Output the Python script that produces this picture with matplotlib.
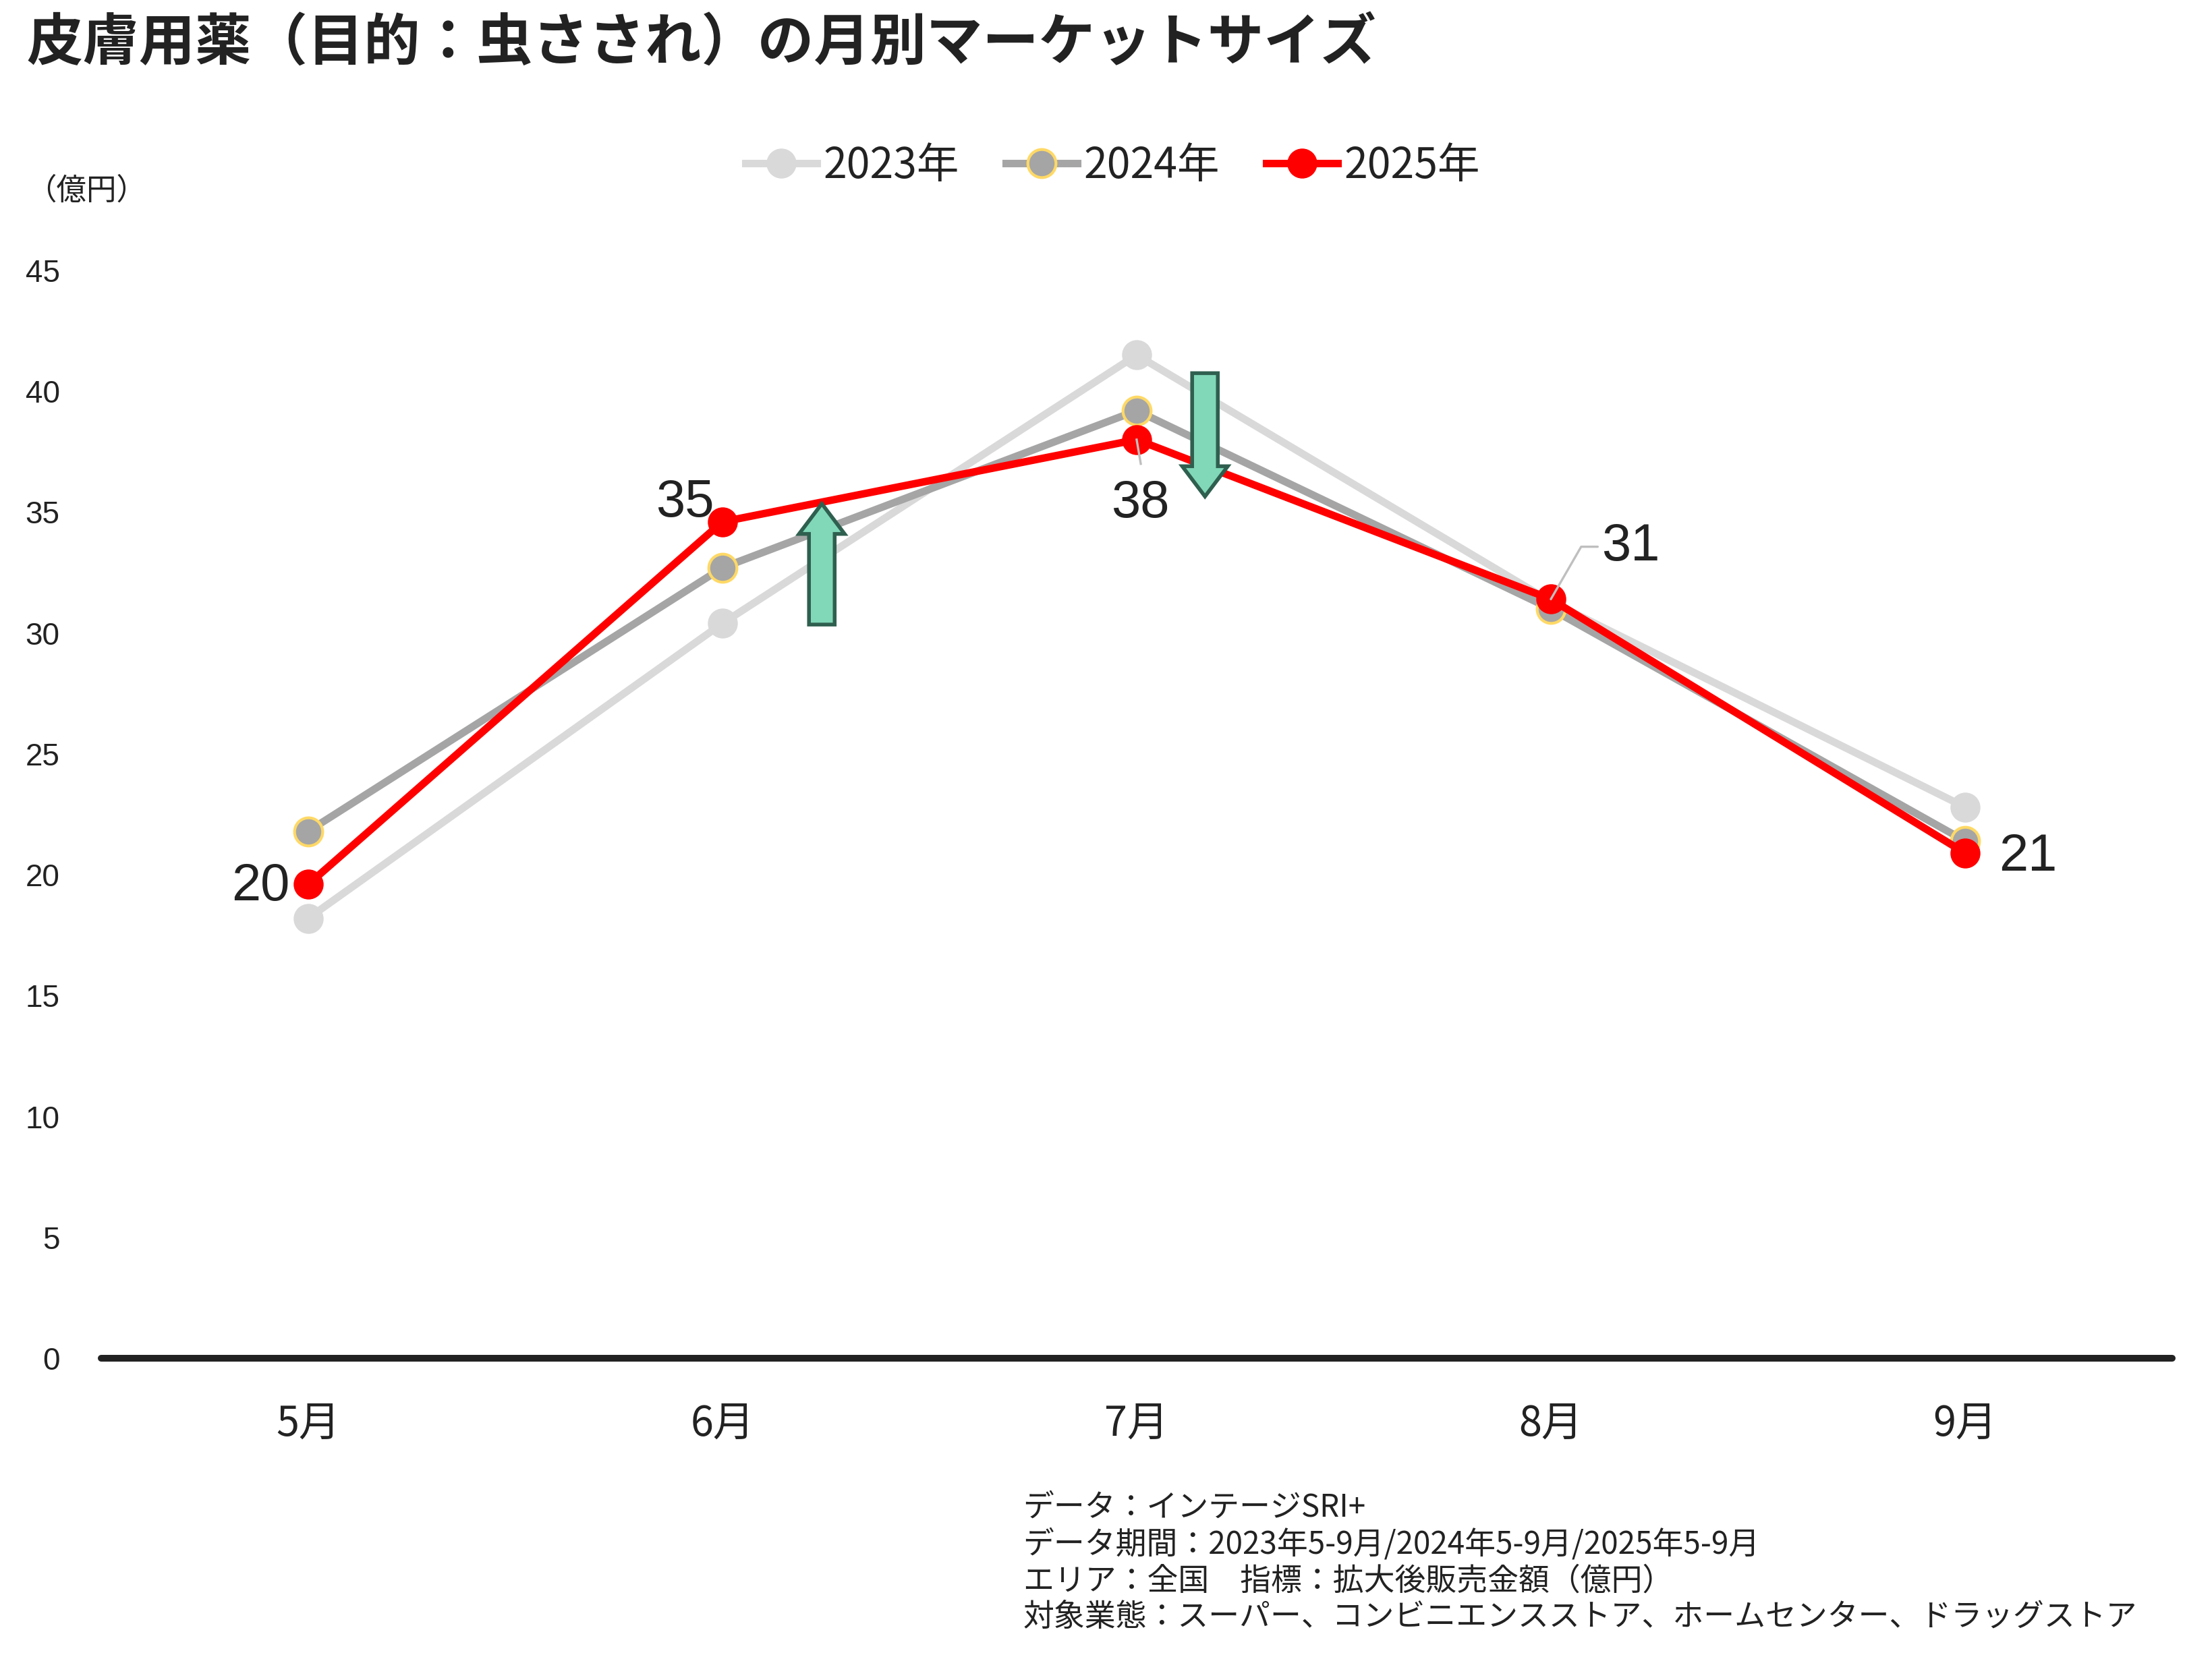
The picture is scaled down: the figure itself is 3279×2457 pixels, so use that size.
import numpy as np
import matplotlib
matplotlib.use('Agg')
import matplotlib.pyplot as plt
from matplotlib.patches import FancyArrow

plt.rcParams['font.family'] = ['Noto Sans CJK JP', 'DejaVu Sans']

months = ['5月', '6月', '7月', '8月', '9月']
sales_2023 = [18.2, 30.4, 41.5, 31.3, 22.8]
sales_2024 = [21.8, 32.7, 39.2, 31.0, 21.4]
sales_2025 = [19.6, 34.6, 38.0, 31.4, 20.9]

# label offsets (points) for the 2025 values
label_offsets = [(-10, -1, 'right'), (-20, 10, 'center'), (2, -34, 'center'),
                 (27, 28, 'left'), (18, -2, 'left')]

footnotes = [
    'データ：インテージSRI+',
    'データ期間：2023年5-9月/2024年5-9月/2025年5-9月',
    'エリア：全国　指標：拡大後販売金額（億円）',
    '対象業態：スーパー、コンビニエンスストア、ホームセンター、ドラッグストア',
]

fig = plt.figure(figsize=(16.395, 12.285), dpi=200)
ax = fig.add_axes([0.0457, 0.1803, 0.9363, 0.6565])

x = np.arange(len(months))
ax.plot(x, sales_2023, color='#D9D9D9', lw=4, marker='o', ms=15,
        mfc='#D9D9D9', mec='#D9D9D9', label='2023年', zorder=2)
ax.plot(x, sales_2024, color='#A5A5A5', lw=4, marker='o', ms=15,
        mfc='#A5A5A5', mec='#FFD966', mew=1.5, label='2024年', zorder=3)
ax.plot(x, sales_2025, color='#FF0000', lw=4, marker='o', ms=15,
        mfc='#FF0000', mec='#FF0000', label='2025年', zorder=4)

for i, v in enumerate(sales_2025):
    dx, dy, ha = label_offsets[i]
    kw = {}
    if i == 3:
        kw['arrowprops'] = dict(arrowstyle='-', color='#BFBFBF', lw=1.2,
                                connectionstyle='angle,angleA=0,angleB=60,rad=0',
                                shrinkA=0, shrinkB=0, relpos=(0, 0.5))
    if i == 2:
        ax.plot([i, i + 0.01], [v, v - 1.0], color='#BFBFBF', lw=1.2, zorder=5)
    ax.annotate(f'{round(v)}', (i, v), xytext=(dx, dy), textcoords='offset points',
                ha=ha, va='center', fontsize=28, color='#222222',
                family='Liberation Sans', zorder=6, **kw)

# trend arrows
arrow_kw = dict(width=0.062, head_width=0.11, head_length=1.25,
                length_includes_head=True, fc='#80D8B8', ec='#2F5F4F', lw=2, zorder=7)
ax.add_patch(FancyArrow(1.24, 30.35, 0, 5.0, **arrow_kw))
ax.add_patch(FancyArrow(2.165, 40.75, 0, -5.1, **arrow_kw))

ax.set_xlim(-0.5, 4.5)
ax.set_ylim(0, 45)
ax.set_yticks(np.arange(0, 46, 5))
ax.set_xticks(x)
ax.set_xticklabels(months, fontsize=22, color='#222222')
ax.tick_params(axis='x', length=0, pad=24)
ax.tick_params(axis='y', length=0, pad=22)
for lab in ax.get_yticklabels():
    lab.set_family('Liberation Sans')
    lab.set_fontsize(16.5)
    lab.set_color('#222222')

for s in ['top', 'right', 'left']:
    ax.spines[s].set_visible(False)
ax.spines['bottom'].set_linewidth(3.6)
ax.spines['bottom'].set_color('#222222')
ax.spines['bottom'].set_capstyle('round')

fig.text(0.012, 0.974, '皮膚用薬（目的：虫さされ）の月別マーケットサイズ', fontsize=30,
         fontweight='bold', color='#222222', ha='left', va='center')
fig.text(0.012, 0.885, '（億円）', fontsize=16, color='#222222', ha='left', va='center')

fig.legend(loc='center', bbox_to_anchor=(0.503, 0.9), ncol=3, frameon=False,
           fontsize=22.5, handlelength=1.7, handletextpad=0.15, columnspacing=1.1,
           labelcolor='#222222')

for k, line in enumerate(footnotes):
    fig.text(0.4625, 0.0900 - k * 0.0220, line, fontsize=16.5, color='#222222',
             ha='left', va='center')

fig.savefig('out.png', dpi=200)
